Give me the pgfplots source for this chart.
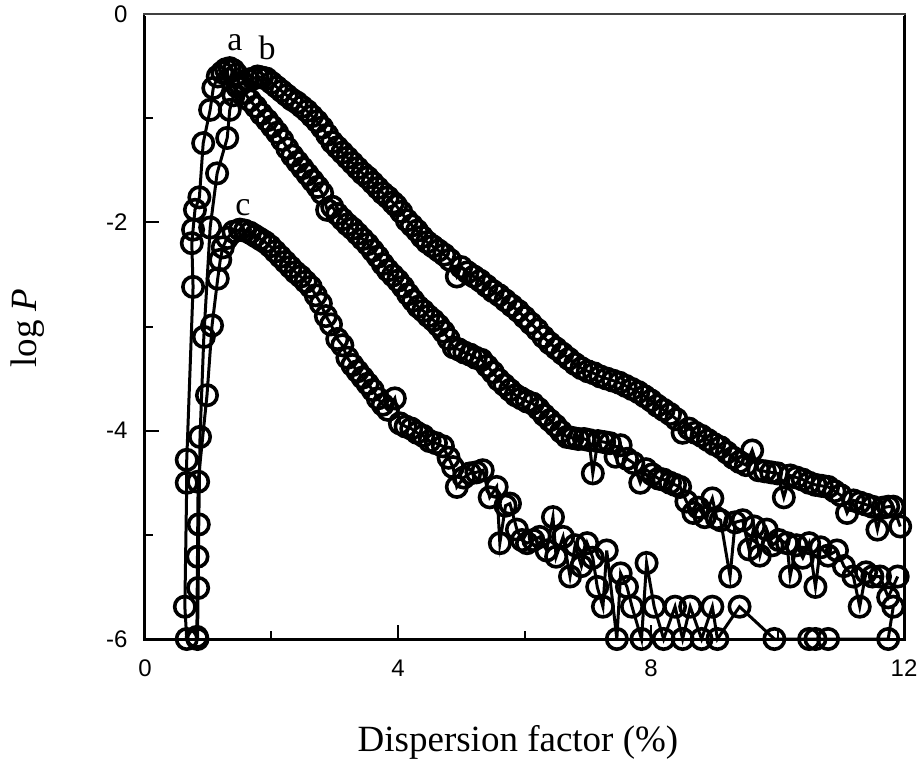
\documentclass[border=0pt]{standalone}
\usepackage{fontspec}
\setmainfont{Liberation Sans}
\newfontfamily\serif{Liberation Serif}
\usepackage{pgfplots}
\pgfplotsset{compat=1.18}
\pgfplotsset{
  circ/.style={black, line width=3bp, mark=o, mark size=10.2bp,
    mark options={fill=white, line width=3.6bp, solid}},
}
\newcommand{\tl}[1]{\hbox{\fontsize{24bp}{28bp}\selectfont #1}}

\begin{document}
\begin{tikzpicture}
\path[use as bounding box] (-145bp,-130bp) rectangle (773bp,639bp);
\begin{axis}[
  at={(0,0)}, anchor=south west,
  scale only axis, width=759bp, height=625bp,
  xmin=0, xmax=12, ymin=-6, ymax=0,
  xtick={0,4,8,12}, xticklabels={\tl{0},\tl{4},\tl{8},\tl{12}},
  minor xtick={2,6,10},
  ytick={-6,-4,-2,0}, yticklabels={\tl{-6},\tl{-4},\tl{-2},\tl{0}},
  minor ytick={-5,-3,-1},
  xtick pos=left, ytick pos=left,
  tick align=inside,
  major tick length=14bp, minor tick length=8bp,
  tick style={line width=2bp, black},
  axis line style={line width=3bp},
  xticklabel style={yshift=-17bp},
  yticklabel style={xshift=-14bp},
  xlabel={Dispersion factor (\%)},
  ylabel={log \textit{P}},
  xlabel style={at={(axis description cs:0.4914,0)}, anchor=base, yshift=-112bp,
    font=\serif\fontsize{37bp}{44bp}\selectfont},
  ylabel style={at={(axis description cs:-0.154,0.4976)}, anchor=center,
    font=\serif\fontsize{37bp}{44bp}\selectfont},
  clip=false,
]
% series b (upper branch)
\addplot[circ] coordinates {
(0.83,-6.00) (0.84,-5.51) (0.85,-4.90) (0.87,-4.06) (0.93,-3.10) (1.03,-2.05)
(1.14,-1.53) (1.30,-1.19) (1.34,-0.92) (1.40,-0.78) (1.46,-0.70) (1.55,-0.66)
(1.63,-0.63) (1.71,-0.62) (1.78,-0.60) (1.85,-0.61)
(1.92,-0.62) (2.00,-0.66) (2.08,-0.70) (2.16,-0.74) (2.24,-0.78) (2.32,-0.82)
(2.40,-0.85) (2.48,-0.89) (2.56,-0.93) (2.64,-0.98) (2.72,-1.03) (2.80,-1.09)
(2.88,-1.16) (2.96,-1.23) (3.04,-1.28) (3.12,-1.33) (3.20,-1.38) (3.28,-1.43)
(3.36,-1.48) (3.44,-1.53) (3.52,-1.57) (3.60,-1.62) (3.68,-1.67) (3.76,-1.72)
(3.84,-1.76) (3.92,-1.81) (3.97,-1.84) (4.05,-1.90) (4.14,-1.98) (4.22,-2.03)
(4.30,-2.08) (4.38,-2.14) (4.46,-2.19) (4.55,-2.23) (4.64,-2.27) (4.73,-2.31)
(4.82,-2.36) (4.93,-2.52) (5.00,-2.43) (5.10,-2.48) (5.20,-2.52) (5.30,-2.56)
(5.40,-2.61) (5.50,-2.66) (5.60,-2.70) (5.70,-2.75) (5.80,-2.80) (5.90,-2.85)
(6.00,-2.91) (6.10,-2.97) (6.20,-3.03) (6.30,-3.10) (6.40,-3.16) (6.50,-3.21)
(6.60,-3.26) (6.70,-3.31) (6.80,-3.36) (6.90,-3.40) (7.00,-3.43) (7.10,-3.45)
(7.20,-3.48) (7.30,-3.50) (7.40,-3.52) (7.50,-3.54) (7.60,-3.57) (7.70,-3.60)
(7.80,-3.63) (7.90,-3.67) (8.00,-3.71) (8.10,-3.76) (8.20,-3.80) (8.30,-3.84)
(8.40,-3.89) (8.50,-4.02) (8.60,-3.98) (8.70,-4.02) (8.80,-4.05) (8.90,-4.09)
(9.00,-4.13) (9.10,-4.16) (9.20,-4.21) (9.30,-4.26) (9.40,-4.30) (9.50,-4.33)
(9.60,-4.19) (9.70,-4.38) (9.80,-4.39) (9.90,-4.40) (10.00,-4.41) (10.10,-4.64)
(10.20,-4.43) (10.30,-4.45) (10.40,-4.47) (10.50,-4.50) (10.60,-4.52) (10.70,-4.53)
(10.80,-4.54) (10.90,-4.58) (11.00,-4.62) (11.10,-4.79) (11.20,-4.67) (11.30,-4.69)
(11.40,-4.71) (11.50,-4.73) (11.58,-4.95) (11.66,-4.74) (11.75,-4.73) (11.83,-4.73)
(11.94,-4.92)
};
% series a (middle branch)
\addplot[circ] coordinates {
(0.66,-6.00) (0.63,-5.69) (0.66,-4.50) (0.66,-4.28) (0.76,-2.62) (0.74,-2.20)
(0.76,-2.07) (0.79,-1.88) (0.86,-1.76) (0.92,-1.24) (1.03,-0.92) (1.08,-0.71)
(1.15,-0.60) (1.22,-0.56) (1.28,-0.53) (1.34,-0.52) (1.40,-0.54) (1.45,-0.58)
(1.50,-0.68) (1.58,-0.76) (1.66,-0.83) (1.75,-0.89) (1.84,-0.96) (1.93,-1.02)
(2.01,-1.08) (2.09,-1.14) (2.17,-1.21) (2.25,-1.29) (2.33,-1.36) (2.41,-1.42)
(2.49,-1.48) (2.57,-1.54) (2.65,-1.60) (2.73,-1.66) (2.80,-1.72) (2.88,-1.88)
(2.96,-1.85) (3.04,-1.92) (3.12,-1.97) (3.20,-2.02) (3.28,-2.06) (3.36,-2.11)
(3.44,-2.16) (3.52,-2.21) (3.60,-2.27) (3.68,-2.33) (3.76,-2.40) (3.84,-2.46)
(3.92,-2.51) (4.00,-2.56) (4.08,-2.62) (4.16,-2.69) (4.24,-2.75) (4.32,-2.81)
(4.40,-2.85) (4.48,-2.90) (4.56,-2.94) (4.64,-2.99) (4.72,-3.05) (4.80,-3.12)
(4.88,-3.20) (4.96,-3.22) (5.05,-3.25) (5.14,-3.27) (5.23,-3.30) (5.32,-3.32)
(5.41,-3.38) (5.50,-3.44) (5.59,-3.51) (5.68,-3.56) (5.77,-3.61) (5.86,-3.66)
(5.95,-3.69) (6.04,-3.72) (6.13,-3.74) (6.22,-3.79) (6.31,-3.85) (6.40,-3.90)
(6.49,-3.95) (6.58,-4.01) (6.67,-4.06) (6.76,-4.07) (6.85,-4.08) (6.94,-4.08)
(7.02,-4.09) (7.08,-4.41) (7.16,-4.10) (7.26,-4.11) (7.35,-4.12) (7.44,-4.25)
(7.52,-4.14) (7.62,-4.27) (7.72,-4.31) (7.83,-4.50) (7.92,-4.37) (8.02,-4.42)
(8.12,-4.46) (8.20,-4.47) (8.30,-4.50) (8.38,-4.52) (8.46,-4.54) (8.56,-4.68)
(8.67,-4.79) (8.75,-4.74) (8.85,-4.83) (8.97,-4.65) (9.04,-4.84) (9.10,-4.86)
(9.25,-5.40) (9.33,-4.88) (9.45,-4.86) (9.55,-5.14) (9.63,-4.92) (9.72,-5.20)
(9.83,-4.95) (9.92,-5.10) (10.02,-5.05) (10.15,-5.08) (10.20,-5.40) (10.30,-5.10)
(10.40,-5.22) (10.50,-5.08) (10.60,-5.50) (10.68,-5.12) (10.80,-5.20) (10.94,-5.15)
(11.05,-5.30) (11.20,-5.40) (11.30,-5.69) (11.40,-5.36) (11.50,-5.40) (11.62,-5.40)
(11.75,-5.60) (11.90,-5.40)
};
% series c (lower branch)
\addplot[circ] coordinates {
(0.82,-5.98) (0.83,-5.21) (0.84,-4.49) (0.98,-3.66) (1.06,-2.99) (1.15,-2.54)
(1.19,-2.36) (1.23,-2.24) (1.30,-2.15) (1.40,-2.09) (1.50,-2.07)
(1.58,-2.08) (1.66,-2.10) (1.74,-2.13) (1.82,-2.16) (1.90,-2.19) (1.98,-2.23)
(2.06,-2.28) (2.14,-2.33) (2.22,-2.38) (2.30,-2.43) (2.38,-2.48) (2.46,-2.52)
(2.54,-2.57) (2.62,-2.62) (2.70,-2.70) (2.78,-2.78) (2.86,-2.90) (2.94,-2.98)
(3.04,-3.12) (3.12,-3.18) (3.20,-3.30) (3.28,-3.37) (3.36,-3.43) (3.44,-3.49)
(3.52,-3.55) (3.60,-3.61) (3.68,-3.69) (3.76,-3.75) (3.84,-3.80) (3.95,-3.69)
(4.03,-3.93) (4.12,-3.96) (4.21,-3.98) (4.30,-4.02) (4.40,-4.05) (4.50,-4.10)
(4.60,-4.12) (4.71,-4.15) (4.80,-4.26) (4.87,-4.35) (4.93,-4.54) (5.04,-4.45)
(5.14,-4.41) (5.24,-4.40) (5.34,-4.38) (5.45,-4.64) (5.56,-4.54) (5.61,-5.08)
(5.70,-4.72) (5.77,-4.70) (5.88,-4.95) (5.96,-5.05) (6.04,-5.08) (6.14,-5.05)
(6.24,-5.02) (6.35,-5.15) (6.45,-4.83) (6.50,-5.21) (6.61,-5.02) (6.72,-5.40)
(6.80,-5.10) (6.90,-5.30) (6.99,-5.08) (7.08,-5.22) (7.15,-5.50) (7.24,-5.69)
(7.30,-5.15) (7.46,-6.00) (7.52,-5.37) (7.62,-5.50) (7.70,-5.69) (7.85,-6.00)
(7.93,-5.27) (8.05,-5.69) (8.20,-6.00) (8.38,-5.69) (8.50,-6.00) (8.62,-5.69)
(8.80,-6.00) (8.97,-5.69) (9.05,-6.00) (9.40,-5.69) (9.95,-6.00) (10.50,-6.00)
(10.60,-6.00) (10.80,-6.00) (11.75,-6.00) (11.83,-5.69)
};
\node[font=\serif\fontsize{34bp}{40bp}\selectfont, anchor=base] at (axis cs:1.42,-0.35) {a};
\node[font=\serif\fontsize{34bp}{40bp}\selectfont, anchor=base] at (axis cs:1.93,-0.44) {b};
\node[font=\serif\fontsize{34bp}{40bp}\selectfont, anchor=base] at (axis cs:1.55,-1.93) {c};
% thin top edge of the frame
\draw[white, line width=3.2bp] (rel axis cs:0,1) -- (rel axis cs:1,1);
\draw[black!75, line width=1.6bp] ([xshift=-1.5bp]rel axis cs:0,1) -- ([xshift=1.5bp]rel axis cs:1,1);
\end{axis}
\end{tikzpicture}
\end{document}
